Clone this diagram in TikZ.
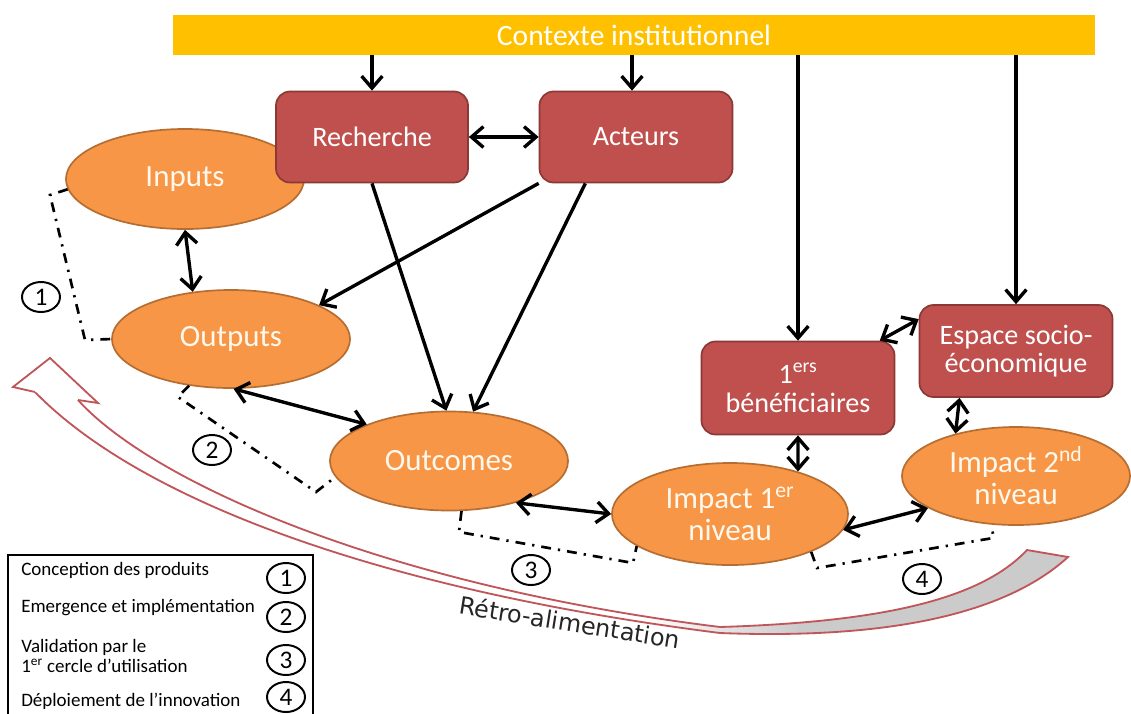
\documentclass[tikz,border=0pt]{standalone}
\usepackage{fontspec}
\setmainfont{Carlito}
\newfontfamily\retrofont{DejaVu Sans}
\usetikzlibrary{arrows.meta,calc,shapes.geometric}
\definecolor{ctxY}{HTML}{FFC000}
\definecolor{boxR}{HTML}{C0504D}
\definecolor{boxRb}{HTML}{8C3836}
\definecolor{ellO}{HTML}{F79646}
\definecolor{ellOb}{HTML}{B66D31}
\definecolor{ribR}{HTML}{C0565A}
\definecolor{ribG}{HTML}{CBCBCB}
\definecolor{cream}{HTML}{FFF8EC}
\begin{document}
\begin{tikzpicture}[x=0.025cm,y=-0.025cm,
  rbox/.style={rectangle,draw=boxRb,line width=1.2pt,fill=boxR,rounded corners=3.5mm,
    text=white,align=center,inner sep=0pt,font=\fontsize{20}{22}\selectfont},
  oell/.style={ellipse,draw=ellOb,line width=1.2pt,fill=ellO,text=cream,align=center,
    inner sep=0pt,font=\fontsize{22}{23}\selectfont},
  tip/.tip={Straight Barb[length=3mm,width=5.2mm]},
  arr/.style={line width=2.4pt,-tip},
  darr/.style={line width=2.4pt,tip-tip},
  dd/.style={line width=1.9pt,dash pattern=on 7pt off 5pt on 1.6pt off 5pt},
  num/.style={ellipse,draw,line width=1.4pt,minimum width=0.95cm,minimum height=0.75cm,
    inner sep=0pt,font=\fontsize{18}{18}\selectfont},
  legtxt/.style={anchor=west,inner sep=0pt,font=\fontsize{13.5}{14.5}\selectfont,align=left}
]
\useasboundingbox[fill=white] (0,0) rectangle (1131,713);

% feedback ribbon
\def\ribbon{(35,392) .. controls (140,500) and (380,590) .. (720,633)
  .. controls (900,640) and (1010,610) .. (1068,557) -- (1027,550)
  .. controls (980,600) and (880,622) .. (720,627)
  .. controls (380,585) and (150,480) .. (78,400)}
\begin{scope}
  \clip \ribbon -- cycle;
  \fill[white] (0,300) rectangle (640,713);
  \shade[left color=white,right color=ribG] (640,300) rectangle (800,713);
  \fill[ribG] (800,300) rectangle (1131,713);
\end{scope}
\draw[ribR,line width=1.3pt] \ribbon;
\filldraw[fill=white,draw=ribR,line width=1.3pt,line join=miter]
  (35,392) -- (13,387) -- (50,358) -- (98,403) -- (78,400);
\node[rotate=-9,inner sep=0pt,font=\retrofont\fontsize{17}{17}\selectfont,text=black!85] (retro) at (570,622) {Rétro-alimentation};

% context bar
\node[rectangle,fill=ctxY,minimum width=23.05cm,minimum height=1cm,inner sep=0pt,
  text=white,font=\fontsize{21}{22}\selectfont] (ctx) at (634,35) {Contexte institutionnel};

% nodes
\node[oell,minimum width=5.95cm,minimum height=2.5cm] (inp) at (185,179) {Inputs};
\node[rbox,minimum width=4.8cm,minimum height=2.275cm] (rech) at (372,137) {Recherche};
\node[rbox,minimum width=4.825cm,minimum height=2.275cm] (act) at (636,137) {Acteurs};
\node[rbox,minimum width=4.825cm,minimum height=2.325cm,font=\fontsize{20}{21}\selectfont] (benef) at (798,388) {1\textsuperscript{ers}\\bénéficiaires};
\node[rbox,minimum width=4.825cm,minimum height=2.3cm,font=\fontsize{20}{20}\selectfont] (esp) at (1016,351) {Espace socio-\\économique};
\node[oell,minimum width=5.95cm,minimum height=2.45cm] (outp) at (231,339) {Outputs};
\node[oell,minimum width=5.95cm,minimum height=2.475cm] (outc) at (449,461) {Outcomes};
\node[oell,minimum width=5.9cm,minimum height=2.55cm] (imp1) at (730,514) {Impact 1\textsuperscript{er}\\niveau};
\node[oell,minimum width=5.7cm,minimum height=2.45cm] (imp2) at (1016,476) {Impact 2\textsuperscript{nd}\\niveau};

% arrows
\draw[arr] (ctx.south -| rech.north) -- (rech.north);
\draw[arr] ($(ctx.south -| act.north)+(-4,0)$) -- ($(act.north)+(-4,0)$);
\draw[arr] (ctx.south -| benef.north) -- (benef.north);
\draw[arr] (ctx.south -| esp.north) -- (esp.north);
\draw[darr] (rech.east) -- (act.west);
\draw[darr] (inp.south) -- (outp.129);
\draw[arr] (act.south west) -- (outp.21);
\draw[arr] (rech.south) -- (outc.93);
\draw[arr] ($(act.south west)!0.24!(act.south east)$) -- (outc.64);
\draw[darr] (outp.-87) -- (outc.156);
\draw[darr] (outc.-32) -- (imp1.west);
\draw[darr] (imp1.-8) -- (imp2.200);
\draw[darr] (benef.south) -- (imp1.32);
\draw[darr] ($(esp.south west)!0.21!(esp.south east)$) -- (imp2.145);
\draw[darr] ($(benef.north west)!0.92!(benef.north east)$) -- ($(esp.north west)!0.16!(esp.south west)$);

% dash-dot brackets
\coordinate (d1a) at (50,195);
\coordinate (d1b) at (85,340);
\draw[dd] (inp.185) -- (d1a) -- (d1b) -- (outp.west);
\coordinate (d2a) at (178,397);
\coordinate (d2b) at (316,492);
\draw[dd] (outp.-132) -- (d2a) -- (d2b) -- (outc.188);
\coordinate (d3a) at (459,532);
\coordinate (d3b) at (633,563);
\draw[dd] (outc.-76) -- (d3a) -- (d3b) -- (imp1.199);
\coordinate (d4a) at (817,568);
\coordinate (d4b) at (993,538);
\draw[dd] (imp1.-25) -- (d4a) -- (d4b) -- (imp2.-116);

\node[num] (n1) at (41,297) {1};
\node[num] (n2) at (212,450) {2};
\node[num] (n3) at (531,570) {3};
\node[num] (n4) at (922,579) {4};

% legend
\draw[line width=1.8pt] (8,555) rectangle (313,720);
\node[legtxt] (l1) at (21,570) {Conception des produits};
\node[legtxt] (l2) at (21,608) {Emergence et implémentation};
\node[legtxt] (l3) at (21,656) {Validation par le\\1\textsuperscript{er} cercle d’utilisation};
\node[legtxt] (l4) at (21,701) {Déploiement de l’innovation};
\node[num] (m1) at (286,578) {1};
\node[num] (m2) at (286,617) {2};
\node[num] (m3) at (286,660) {3};
\node[num] (m4) at (286,697) {4};
\end{tikzpicture}
\end{document}
